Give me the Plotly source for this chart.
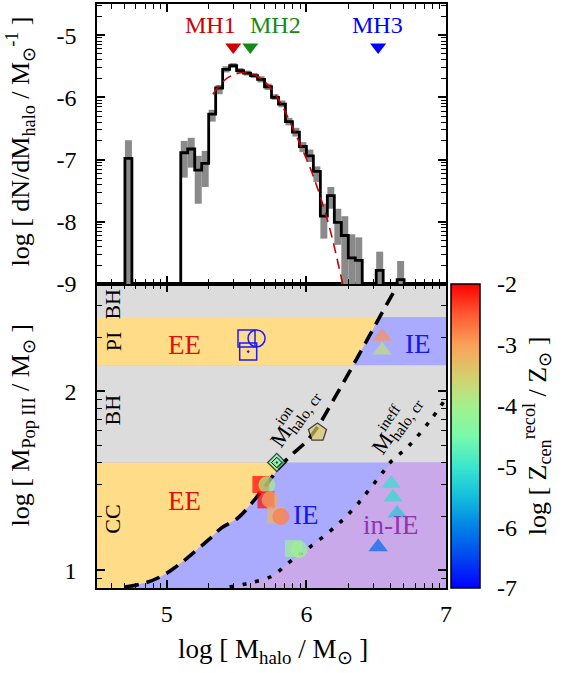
import numpy as np
import plotly.graph_objects as go

# ------------------------------------------------------------------
# Top panel: halo mass function (histogram, error band, fit)
# ------------------------------------------------------------------
BIN_W = 0.05
bin_lo = [4.70, 5.10, 5.15, 5.20, 5.25, 5.30, 5.35, 5.40, 5.45, 5.50, 5.55, 5.60, 5.65, 5.70,
          5.75, 5.80, 5.85, 5.90, 5.95, 6.00, 6.05, 6.10, 6.15, 6.20, 6.25, 6.30, 6.35, 6.50, 6.65]
log_dndm = [-6.98, -6.89, -6.83, -7.17, -7.06, -6.27, -5.85, -5.55, -5.49, -5.57, -5.61, -5.65, -5.71, -5.83,
            -6.00, -6.11, -6.39, -6.56, -6.79, -6.94, -7.19, -7.91, -7.58, -8.01, -8.22, -8.58, -8.62, -8.78, -8.93]
err_lo = [None, -7.29, -7.13, -7.71, -7.44, -6.39, -5.95, -5.60, -5.53, -5.61, -5.65, -5.69, -5.76, -5.88,
          -6.04, -6.16, -6.45, -6.63, -6.88, -7.04, -7.36, -8.27, -7.79, -8.37, None, None, None, None, None]
err_hi = [-6.69, -6.70, -6.65, -6.94, -6.86, -6.20, -5.80, -5.50, -5.45, -5.53, -5.57, -5.61, -5.66, -5.78,
          -5.95, -6.05, -6.33, -6.49, -6.72, -6.84, -7.11, -7.71, -7.44, -7.79, -7.91, -8.20, -8.25, -8.48, -8.63]

fit_x = [5.33, 5.38, 5.44, 5.50, 5.55, 5.62, 5.68, 5.745, 5.82, 5.89, 5.96, 6.03, 6.10, 6.17, 6.26]
fit_y = [-5.95, -5.80, -5.68, -5.62, -5.60, -5.63, -5.71, -5.85, -6.11, -6.43, -6.78, -7.15, -7.60, -8.13, -9.0]

mh_names = ["MH1", "MH2", "MH3"]
mh_x = [5.476, 5.598, 6.514]
mh_y = [-5.19, -5.19, -5.19]
mh_label_x = [5.31, 5.78, 6.507]
mh_label_y = -4.84
mh_colors = ["#cc0000", "#168a16", "#0000ff"]

# ------------------------------------------------------------------
# Bottom panel: Pop III mass vs halo mass
# ------------------------------------------------------------------
cc_top = np.log10(40.0)    # CC / BH boundary
bh_top = np.log10(140.0)   # BH / PI boundary
pi_top = np.log10(260.0)   # PI / BH boundary

ion_x = [4.70, 4.85, 4.96, 5.05, 5.15, 5.30, 5.39, 5.507, 5.614, 5.721, 5.80, 5.888, 6.00, 6.08, 6.20, 6.35, 6.50, 6.65]
ion_y = [0.905, 0.93, 0.965, 1.01, 1.07, 1.17, 1.235, 1.29, 1.38, 1.485, 1.57, 1.64, 1.72, 1.80, 1.96, 2.167, 2.38, 2.59]
ineff_x = [5.45, 5.58, 5.75, 5.87, 5.96, 6.06, 6.245, 6.39, 6.44, 6.56, 6.60, 6.74, 6.89, 7.0]
ineff_y = [0.905, 0.926, 0.965, 1.04, 1.093, 1.15, 1.27, 1.39, 1.44, 1.56, 1.602, 1.70, 1.84, 1.96]

pt_x = [5.674, 5.717, 5.710, 5.740, 5.780, 5.817, 5.948, 5.907, 6.079, 5.788, 6.543, 6.543, 6.607, 6.621, 6.650, 6.514]
pt_y = [1.479, 1.478, 1.393, 1.393, 1.306, 1.300, 1.115, 1.120, 1.770, 1.602, 2.306, 2.230, 1.485, 1.407, 1.318, 1.130]
pt_z = [-2.0, -4.0, -2.05, -3.05, -3.2, -2.75, -4.1, -4.1, -3.45, -4.55, -2.9, -3.75, -5.1, -5.15, -5.35, -6.2]
pt_symbol = ["square", "circle", "square", "circle", "square", "circle", "circle", "square",
             "pentagon", "diamond-dot", "triangle-up", "triangle-up", "triangle-up", "triangle-up",
             "triangle-up", "triangle-up"]

open_x = [5.571, 5.583, 5.643]
open_y = [2.296, 2.222, 2.296]
open_symbol = ["square-open", "square-open-dot", "circle-open"]

region_text = ["EE", "EE", "IE", "IE", "in-IE"]
region_x = [5.126, 5.126, 6.793, 5.995, 6.602]
region_y = [2.26, 1.389, 2.263, 1.306, 1.25]
region_color = ["#dd1111", "#dd1111", "#1515ee", "#1515ee", "#9333b0"]

band_text = ["BH", "PI", "BH", "CC"]
band_x = 4.614
band_y = [2.49, 2.28, 1.898, 1.287]

cb_tickvals = [-7, -6, -5, -4, -3, -2]

# ------------------------------------------------------------------
# styling constants
# ------------------------------------------------------------------
FONT = "Liberation Serif, Times New Roman, serif"
X_RANGE = [4.5, 7.0]
Y_BOT = [0.9, 2.6]
Y_TOP = [-9.0, -4.5]
SPLIT = 0.5205
W, H = 566, 673
ML, MR, MT, MB = 97, 120, 2, 85
PW = W - ML - MR
PH = H - MT - MB
CMIN, CMAX = -7, -2
YELLOW, BLUE, PURPLE, GRAY = "#ffdd88", "#aaaaff", "#c9a9ea", "#dcdcdc"

colorscale = [
    [0.0, "rgb(0,0,255)"], [0.1, "rgb(0,70,240)"], [0.2, "rgb(0,130,230)"],
    [0.3, "rgb(20,190,220)"], [0.4, "rgb(60,230,205)"], [0.5, "rgb(120,250,170)"],
    [0.6, "rgb(165,240,140)"], [0.7, "rgb(215,205,110)"], [0.8, "rgb(250,160,90)"],
    [0.9, "rgb(255,90,50)"], [1.0, "rgb(255,0,0)"],
]

fig = go.Figure()

# ---------------- top panel ----------------
FLOOR = -9.6
centers = [lo + BIN_W / 2 for lo in bin_lo]
bases = [FLOOR if l is None else l for l in err_lo]
heights = [h - b for h, b in zip(err_hi, bases)]
fig.add_trace(go.Bar(x=centers, y=heights, base=bases, width=BIN_W,
                     marker=dict(color="#8a8a8a", line=dict(width=0)),
                     xaxis="x2", yaxis="y2", hoverinfo="skip"))

sx, sy = [], []
prev_hi = None
for lo, v in zip(bin_lo, log_dndm):
    hi = lo + BIN_W
    if prev_hi is None or abs(lo - prev_hi) > 1e-6:
        if prev_hi is not None:
            sx.append(prev_hi); sy.append(FLOOR)
        sx.append(lo); sy.append(FLOOR)
    sx += [lo, hi]
    sy += [v, v]
    prev_hi = hi
sx.append(prev_hi); sy.append(FLOOR)
fig.add_trace(go.Scatter(x=sx, y=sy, mode="lines", line=dict(color="black", width=2.8),
                         xaxis="x2", yaxis="y2", hoverinfo="skip"))

fig.add_trace(go.Scatter(x=fit_x, y=fit_y, mode="lines", line=dict(color="#cc0000", width=1.6, dash="10px,6px", shape="spline"),
                         xaxis="x2", yaxis="y2", hoverinfo="skip"))

fig.add_trace(go.Scatter(x=mh_x, y=mh_y, mode="markers",
                         marker=dict(symbol="triangle-down", size=14, color=mh_colors),
                         xaxis="x2", yaxis="y2", hoverinfo="skip"))

annotations = []
for name, lx, c in zip(mh_names, mh_label_x, mh_colors):
    annotations.append(dict(x=lx, y=mh_label_y, xref="x2", yref="y2", text=name, showarrow=False,
                            font=dict(family=FONT, size=24, color=c)))

# ---------------- bottom panel ----------------
shapes = [
    dict(type="rect", xref="x", yref="y", x0=X_RANGE[0], x1=X_RANGE[1], y0=Y_BOT[0], y1=Y_BOT[1],
         fillcolor=GRAY, line=dict(width=0), layer="below"),
    dict(type="rect", xref="x", yref="y", x0=X_RANGE[0], x1=X_RANGE[1], y0=Y_BOT[0], y1=cc_top,
         fillcolor=BLUE, line=dict(width=0), layer="below"),
    dict(type="rect", xref="x", yref="y", x0=X_RANGE[0], x1=X_RANGE[1], y0=bh_top, y1=pi_top,
         fillcolor=BLUE, line=dict(width=0), layer="below"),
]

ion_xa, ion_ya = np.array(ion_x), np.array(ion_y)
ineff_xa, ineff_ya = np.array(ineff_x), np.array(ineff_y)


def x_on(curve_x, curve_y, y):
    return float(np.interp(y, curve_y, curve_x))


def left_poly(y0, y1):
    px = [X_RANGE[0], x_on(ion_xa, ion_ya, y0)]
    py = [y0, y0]
    m = (ion_ya > y0) & (ion_ya < y1)
    px += list(ion_xa[m]); py += list(ion_ya[m])
    px += [x_on(ion_xa, ion_ya, y1), X_RANGE[0]]
    py += [y1, y1]
    return px, py


# yellow CC region (left of dashed)
px, py = left_poly(Y_BOT[0], cc_top)
px = [X_RANGE[0], ion_x[0]] + px[2:]
py = [Y_BOT[0], Y_BOT[0]] + py[2:]
fig.add_trace(go.Scatter(x=px, y=py, fill="toself", fillcolor=YELLOW, mode="lines", line=dict(width=0),
                         xaxis="x", yaxis="y", hoverinfo="skip"))
# yellow PI region
px, py = left_poly(bh_top, pi_top)
fig.add_trace(go.Scatter(x=px, y=py, fill="toself", fillcolor=YELLOW, mode="lines", line=dict(width=0),
                         xaxis="x", yaxis="y", hoverinfo="skip"))
# purple region (right of dotted, CC band)
m = ineff_ya < cc_top
qx = [ineff_x[0]] + list(ineff_xa[m]) + [x_on(ineff_xa, ineff_ya, cc_top), X_RANGE[1], X_RANGE[1]]
qy = [Y_BOT[0]] + list(ineff_ya[m]) + [cc_top, cc_top, Y_BOT[0]]
fig.add_trace(go.Scatter(x=qx, y=qy, fill="toself", fillcolor=PURPLE, mode="lines", line=dict(width=0),
                         xaxis="x", yaxis="y", hoverinfo="skip"))

# critical mass curves
fig.add_trace(go.Scatter(x=ion_x, y=ion_y, mode="lines", line=dict(color="black", width=3.6, dash="14px,8px", shape="spline"),
                         xaxis="x", yaxis="y", hoverinfo="skip"))
fig.add_trace(go.Scatter(x=ineff_x, y=ineff_y, mode="lines", line=dict(color="black", width=3.6, dash="4px,9px", shape="spline"),
                         xaxis="x", yaxis="y", hoverinfo="skip"))

# open blue markers
fig.add_trace(go.Scatter(x=open_x, y=open_y, mode="markers",
                         marker=dict(symbol=open_symbol, size=17, color="#1a1aff", line=dict(width=1.5, color="#1a1aff")),
                         xaxis="x", yaxis="y", hoverinfo="skip"))

# coloured markers
size_of = {"square": 17, "circle": 17, "pentagon": 19, "diamond-dot": 14, "triangle-up": 17}
lw_of = {"square": 0, "circle": 0, "pentagon": 1.3, "diamond-dot": 1.3, "triangle-up": 0}
fig.add_trace(go.Scatter(
    x=pt_x, y=pt_y, mode="markers",
    marker=dict(symbol=pt_symbol, size=[size_of[s] for s in pt_symbol], color=pt_z,
                colorscale=colorscale, cmin=CMIN, cmax=CMAX,
                line=dict(width=[lw_of[s] for s in pt_symbol], color="black"),
                showscale=True,
                colorbar=dict(x=(451 - ML) / PW, xanchor="left", xref="paper", xpad=0,
                              y=0, yanchor="bottom", ypad=0, len=SPLIT, lenmode="fraction",
                              thickness=29, outlinewidth=1.5, outlinecolor="black",
                              tickvals=cb_tickvals, ticktext=[str(v) for v in cb_tickvals],
                              ticks="outside", ticklen=12, tickcolor="rgba(0,0,0,0)",
                              tickfont=dict(family=FONT, size=24, color="black"),
                              title=dict(text="log [ Z<sub>cen</sub><sup>recol</sup> / Z<sub>\u2299</sub> ]",
                                         side="right", font=dict(family=FONT, size=26, color="black")))),
    xaxis="x", yaxis="y", hoverinfo="skip"))
# inner outline of the diamond marker
fig.add_trace(go.Scatter(x=[pt_x[9]], y=[pt_y[9]], mode="markers",
                         marker=dict(symbol="diamond-open", size=8, color="black", line=dict(width=1, color="black")),
                         xaxis="x", yaxis="y", hoverinfo="skip"))

# colour-bar tick marks inside the bar (both sides)
cb_x0 = (451 - ML) / PW
cb_x1 = cb_x0 + 29 / PW
tl = 8 / PW
for v in cb_tickvals[1:-1]:
    yy = SPLIT * (v - CMIN) / (CMAX - CMIN)
    shapes.append(dict(type="line", xref="paper", yref="paper", x0=cb_x0, x1=cb_x0 + tl, y0=yy, y1=yy,
                       line=dict(color="black", width=1.5)))
    shapes.append(dict(type="line", xref="paper", yref="paper", x0=cb_x1 - tl, x1=cb_x1, y0=yy, y1=yy,
                       line=dict(color="black", width=1.5)))

for t, x, y, c in zip(region_text, region_x, region_y, region_color):
    annotations.append(dict(x=x, y=y, xref="x", yref="y", text=t, showarrow=False,
                            font=dict(family=FONT, size=27, color=c)))
for t, y in zip(band_text, band_y):
    annotations.append(dict(x=band_x, y=y, xref="x", yref="y", text=t, showarrow=False, textangle=-90,
                            font=dict(family=FONT, size=22, color="black")))

# curve labels (M with stacked sub/superscripts)
ANG = 55
for (cx, cy, sup, dx, dy) in [(5.92, 1.85, "ion", -11.1, 3.4), (6.65, 1.81, "ineff", -8.4, 7.2)]:
    annotations.append(dict(x=cx, y=cy, xref="x", yref="y", text="M<sub>halo, cr</sub>", showarrow=False,
                            textangle=-ANG, font=dict(family=FONT, size=22, color="black")))
    annotations.append(dict(x=cx, y=cy, xref="x", yref="y", text=sup, showarrow=False,
                            textangle=-ANG, xshift=dx, yshift=dy, font=dict(family=FONT, size=15, color="black")))

# axis titles
annotations.append(dict(x=(20 - ML) / PW, y=(MT + PH - 140) / PH, xref="paper", yref="paper", showarrow=False,
                        xanchor="center", yanchor="middle",
                        text="log [ dN/dM<sub>halo</sub> / M<sub>\u2299</sub><sup>-1</sup> ]", textangle=-90,
                        font=dict(family=FONT, size=26, color="black")))
annotations.append(dict(x=(22 - ML) / PW, y=(MT + PH - 425) / PH, xref="paper", yref="paper", showarrow=False,
                        xanchor="center", yanchor="middle",
                        text="log [ M<sub>Pop III</sub> / M<sub>\u2299</sub> ]", textangle=-90,
                        font=dict(family=FONT, size=26, color="black")))
annotations.append(dict(x=(273 - ML) / PW, y=(MT + PH - 651) / PH, xref="paper", yref="paper", showarrow=False,
                        xanchor="center", yanchor="middle",
                        text="log [ M<sub>halo</sub> / M<sub>\u2299</sub> ]",
                        font=dict(family=FONT, size=27, color="black")))


def minor_vals(lo, hi, decades):
    vals = []
    for d in decades:
        for k in range(2, 10):
            v = d + np.log10(k)
            if lo < v < hi:
                vals.append(float(v))
    return vals


axis_common = dict(showline=True, linecolor="black", linewidth=1.5, mirror="ticks", ticks="inside",
                   ticklen=8, tickwidth=1.5, tickcolor="black", showgrid=False, zeroline=False,
                   tickfont=dict(family=FONT, size=24, color="black"))
x_minor = dict(tickvals=minor_vals(X_RANGE[0], X_RANGE[1], [4, 5, 6]), ticks="inside", ticklen=5,
               tickwidth=1, tickcolor="black", showgrid=False)

fig.update_layout(
    width=W, height=H, margin=dict(l=ML, r=MR, t=MT, b=MB),
    paper_bgcolor="white", plot_bgcolor="white",
    font=dict(family=FONT, size=24, color="black"),
    showlegend=False, barmode="overlay",
    xaxis=dict(domain=[0, 1], range=X_RANGE, anchor="y", tickvals=[5, 6, 7], ticktext=["5", "6", "7"],
               minor=x_minor, ticklabelstandoff=3, **axis_common),
    yaxis=dict(domain=[0, SPLIT], range=Y_BOT, anchor="x", tickvals=[1, 2], ticktext=["1", "2"],
               minor=dict(tickvals=minor_vals(Y_BOT[0], Y_BOT[1], [0, 1, 2]), ticks="inside", ticklen=5,
                          tickwidth=1, tickcolor="black", showgrid=False),
               ticklabelstandoff=14, **axis_common),
    xaxis2=dict(domain=[0, 1], range=X_RANGE, anchor="y2", matches="x", showticklabels=False,
                tickvals=[5, 6, 7], minor=x_minor, **axis_common),
    yaxis2=dict(domain=[SPLIT, 1], range=Y_TOP, anchor="x2", tickvals=[-9, -8, -7, -6, -5],
                ticktext=["-9", "-8", "-7", "-6", "-5"],
                minor=dict(tickvals=minor_vals(Y_TOP[0], Y_TOP[1], [-10, -9, -8, -7, -6, -5]), ticks="inside",
                           ticklen=5, tickwidth=1, tickcolor="black", showgrid=False),
                ticklabelstandoff=14, **axis_common),
    shapes=shapes, annotations=annotations,
)

fig.write_html("out.html", config={"displayModeBar": False},
               post_script="document.body.style.margin='0';")
